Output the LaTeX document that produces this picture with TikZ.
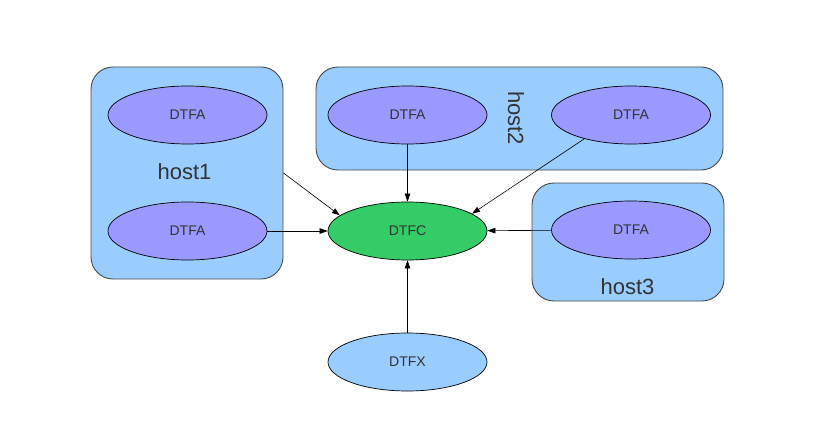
\documentclass[tikz,border=0pt]{standalone}
\usepackage{fontspec}
\setmainfont{Liberation Sans}
\usetikzlibrary{arrows.meta,shapes.geometric}
\definecolor{boxfill}{HTML}{99CCFF}
\definecolor{agentfill}{HTML}{9999FF}
\definecolor{ctrlfill}{HTML}{33CC66}
\definecolor{txt}{HTML}{333333}
\definecolor{boxline}{HTML}{4A4A4A}
\tikzset{
  hostbox/.style={draw=boxline,line width=0.9pt,fill=boxfill,rounded corners=22pt,inner sep=0pt},
  proc/.style={ellipse,draw=black,line width=0.7pt,inner sep=0pt,minimum width=159pt,minimum height=58pt,font=\fontsize{14}{16}\selectfont,text=txt},
  agent/.style={proc,fill=agentfill},
  hostlabel/.style={font=\fontsize{22}{24}\selectfont,text=txt,inner sep=0pt},
  conn/.style={draw=black,line width=0.6pt,-{Triangle[length=8pt,width=5.5pt]}}
}
\begin{document}
\begin{tikzpicture}[x=1pt,y=-1pt]
\useasboundingbox (0,0) rectangle (814,436);
% host boxes
\node[hostbox,minimum width=192pt,minimum height=212pt] (h1) at (187,173) {};
\node[hostbox,minimum width=407pt,minimum height=103pt] (h2) at (519.5,118.5) {};
\node[hostbox,minimum width=192pt,minimum height=118pt] (h3) at (628,242) {};
\node[hostlabel] (l1) at (184.5,172) {host1};
\node[hostlabel,rotate=-90] (l2) at (516,118) {host2};
\node[hostlabel] (l3) at (627.5,287) {host3};
% processes
\node[agent] (a1) at (187.5,115) {DTFA};
\node[agent] (a2) at (187.5,231) {DTFA};
\node[agent] (a3) at (407.5,115) {DTFA};
\node[agent] (a4) at (631,115) {DTFA};
\node[agent] (a5) at (631,230) {DTFA};
\node[proc,fill=ctrlfill] (c) at (407.5,231) {DTFC};
\node[proc,fill=boxfill] (x) at (407.5,362) {DTFX};
% connectors
\draw[conn] (h1.east) -- (c.167);
\draw[conn] (a2) -- (c);
\draw[conn] (a3) -- (c);
\draw[conn] (a4.207) -- (c.15);
\draw[conn] (a5) -- (c);
\draw[conn] (x) -- (c);
\end{tikzpicture}
\end{document}
